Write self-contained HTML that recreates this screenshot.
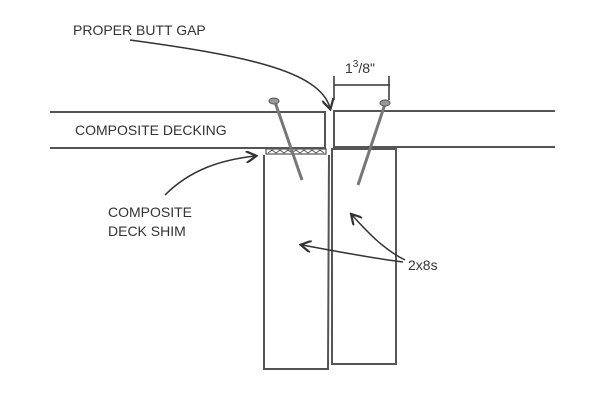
<!DOCTYPE html>
<html><head><style>
body{margin:0;background:#fff;width:600px;height:400px;overflow:hidden}
text{font-family:"Liberation Sans",sans-serif;fill:#333;font-size:14px}
</style></head><body>
<svg width="600" height="400" viewBox="0 0 600 400" xmlns="http://www.w3.org/2000/svg">
<defs><marker id="ah" markerWidth="8" markerHeight="8" refX="6" refY="4" orient="auto"><path d="M0,0 L7,4 L0,8" fill="none" stroke="#333" stroke-width="1.5"/></marker></defs>
<g stroke="#555" fill="none" stroke-width="2">
<!-- decking -->
<path d="M50,112 L325,112 L325,148 L50,148"/>
<path d="M555,111 L334,111 L334,147 L555,147"/>
<!-- shim -->
<rect x="266" y="149" width="60" height="5" stroke-width="1.2"/>
<path d="M268,153 l4,-3 l4,3 l4,-3 l4,3 l4,-3 l4,3 l4,-3 l4,3 l4,-3 l4,3 l4,-3 l4,3 l4,-3 l4,3" stroke-width="1"/>
<!-- joists -->
<path d="M264,155 L264,369 L328,369 L329,155"/>
<path d="M332,149 L332,364 L396,364 L396,149 Z"/>
</g>
<!-- screws -->
<g stroke="#777" stroke-width="3" fill="none">
<line x1="275" y1="102" x2="302" y2="180"/>
<line x1="385" y1="104" x2="358" y2="185"/>
</g>
<g fill="#999" stroke="#555" stroke-width="1"><ellipse cx="274" cy="101" rx="5" ry="3"/><ellipse cx="385" cy="103" rx="5" ry="3"/></g>
<!-- dimension -->
<g stroke="#333" stroke-width="1.5">
<line x1="334" y1="85" x2="390" y2="85"/>
<line x1="334" y1="76" x2="334" y2="100"/>
<line x1="389" y1="76" x2="389" y2="100"/>
</g>
<text x="345" y="73" font-size="15">1<tspan font-size="10" dy="-6">3</tspan><tspan dy="6">/8"</tspan></text>
<!-- labels -->
<text x="73" y="35">PROPER BUTT GAP</text>
<text x="75" y="135">COMPOSITE DECKING</text>
<text x="108" y="217">COMPOSITE</text>
<text x="108" y="236">DECK SHIM</text>
<text x="408" y="270">2x8s</text>
<g stroke="#333" stroke-width="1.5" fill="none">
<path d="M130,40 C240,55 320,70 330,108" marker-end="url(#ah)"/>
<path d="M165,195 C190,170 220,160 255,156" marker-end="url(#ah)"/>
<path d="M403,262 C370,258 330,250 302,245" marker-end="url(#ah)"/>
<path d="M405,260 C385,250 370,235 352,215" marker-end="url(#ah)"/>
</g>
</svg>
</body></html>
